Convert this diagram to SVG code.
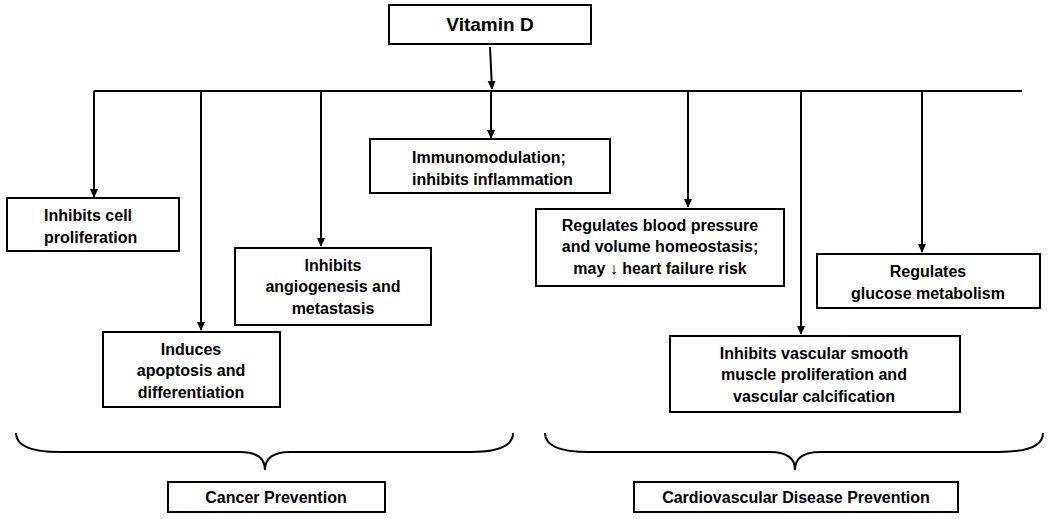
<svg xmlns="http://www.w3.org/2000/svg" width="1050" height="519" viewBox="0 0 1050 519">
<defs>
<style>
.b{fill:#fff;stroke:#000;stroke-width:2}
text{font-family:"Liberation Sans",Arial,sans-serif;font-weight:bold;font-size:16px;fill:#000}
.c{text-anchor:middle}
.l{fill:none;stroke:#000;stroke-width:2}
</style>
<marker id="a" markerWidth="10" markerHeight="10" refX="8" refY="5" orient="auto" markerUnits="userSpaceOnUse"><path d="M0,1 L9,5 L0,9 z" fill="#000"/></marker>
</defs>
<rect width="1050" height="519" fill="#fff"/>
<g id="connectors">
<line class="l" x1="490" y1="47" x2="492" y2="89" marker-end="url(#a)"/>
<line class="l" x1="94" y1="91" x2="1022" y2="91"/>
<line class="l" x1="94" y1="91" x2="94" y2="197" marker-end="url(#a)"/>
<line class="l" x1="201" y1="91" x2="201" y2="330" marker-end="url(#a)"/>
<line class="l" x1="321" y1="91" x2="321" y2="246" marker-end="url(#a)"/>
<line class="l" x1="491" y1="91" x2="491" y2="138" marker-end="url(#a)"/>
<line class="l" x1="688" y1="91" x2="688" y2="207" marker-end="url(#a)"/>
<line class="l" x1="801" y1="91" x2="801" y2="334" marker-end="url(#a)"/>
<line class="l" x1="922" y1="91" x2="922" y2="252" marker-end="url(#a)"/>
<path class="l" d="M16,433 Q16,452 60,452 L240,452 Q265,452 265,470 Q265,452 290,452 L470,452 Q513,452 513,433"/>
<path class="l" d="M545,433 Q545,452 589,452 L770,452 Q795,452 795,470 Q795,452 820,452 L999,452 Q1043,452 1043,433"/>
</g>
<g id="vitd"><rect class="b" x="389" y="5" width="202" height="39"/><text class="c" x="490" y="31" style="font-size:19px">Vitamin D</text></g>
<g id="n1"><rect class="b" x="7" y="198" width="172" height="53"/><text x="44" y="221">Inhibits cell</text><text x="44" y="243">proliferation</text></g>
<g id="n2"><rect class="b" x="235" y="248" width="196" height="77"/><text class="c" x="333" y="271">Inhibits</text><text class="c" x="333" y="292">angiogenesis and</text><text class="c" x="333" y="314">metastasis</text></g>
<g id="n3"><rect class="b" x="103" y="332" width="177" height="75"/><text class="c" x="191" y="355">Induces</text><text class="c" x="191" y="376">apoptosis and</text><text class="c" x="191" y="398">differentiation</text></g>
<g id="n4"><rect class="b" x="370" y="139" width="240" height="54"/><text x="412" y="163">Immunomodulation;</text><text x="412" y="185">inhibits inflammation</text></g>
<g id="n5"><rect class="b" x="536" y="209" width="248" height="77"/><text class="c" x="660" y="231">Regulates blood pressure</text><text class="c" x="660" y="252">and volume homeostasis;</text><text class="c" x="660" y="274">may ↓ heart failure risk</text></g>
<g id="n6"><rect class="b" x="817" y="254" width="223" height="54"/><text class="c" x="928" y="277">Regulates</text><text class="c" x="928" y="299">glucose metabolism</text></g>
<g id="n7"><rect class="b" x="670" y="336" width="290" height="76"/><text class="c" x="814" y="359">Inhibits vascular smooth</text><text class="c" x="814" y="380">muscle proliferation and</text><text class="c" x="814" y="402">vascular calcification</text></g>
<g id="cp"><rect class="b" x="168" y="482" width="217" height="30"/><text class="c" x="276" y="503">Cancer Prevention</text></g>
<g id="cvd"><rect class="b" x="634" y="482" width="324" height="30"/><text class="c" x="796" y="503">Cardiovascular Disease Prevention</text></g>
</svg>
